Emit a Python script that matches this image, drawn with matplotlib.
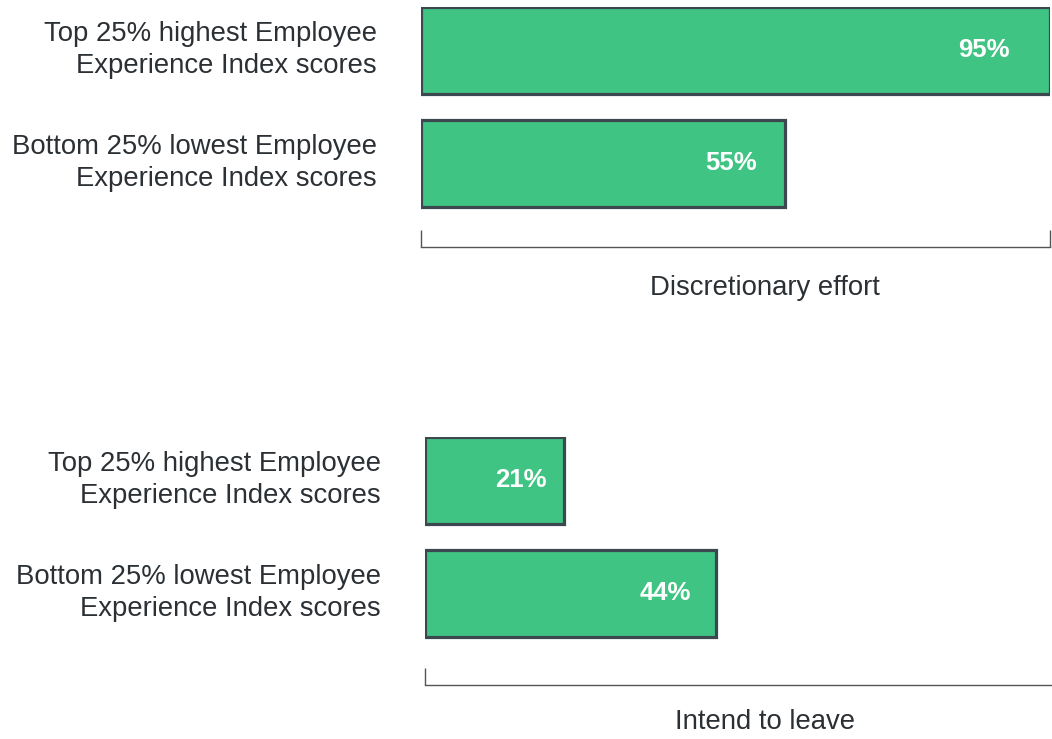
import matplotlib.pyplot as plt

plt.rcParams['font.family'] = ['Liberation Sans', 'DejaVu Sans']

groups = ["Top 25% highest Employee\nExperience Index scores",
          "Bottom 25% lowest Employee\nExperience Index scores"]
effort = [95, 55]
leave = [21, 44]
panel_titles = ["Discretionary effort", "Intend to leave"]

BAR = "#40c483"
EDGE = "#3b4850"
TEXT = "#2b3035"


def draw_panel(ax, values, title, label_x, label_y):
    ypos = list(range(len(values)))
    ax.barh(ypos, values, height=0.77, color=BAR, edgecolor=EDGE, linewidth=2.3)
    for y, v in zip(ypos, values):
        # label sits a bit inside the end of each bar
        ax.text(0.953 * v - 5.6, y, f"{v}%", ha="center", va="center",
                color="white", fontsize=18.5, fontweight="bold")
    ax.set_xlim(0, 95)
    ax.set_yticks(ypos)
    ax.set_yticklabels(groups, fontsize=19.8, color=TEXT, ha="right",
                       va="center", linespacing=1.3)
    ax.tick_params(axis="y", length=0, pad=32)
    ax.set_xticks([0, 95])
    ax.set_xticklabels([])
    ax.tick_params(axis="x", direction="in", length=12, width=1, color="#555555")
    for s in ["top", "right", "left"]:
        ax.spines[s].set_visible(False)
    ax.spines["bottom"].set_color("#555555")
    ax.spines["bottom"].set_linewidth(1)
    ax.set_xlabel(title, fontsize=19.8, color=TEXT)
    ax.xaxis.set_label_coords(label_x, label_y)


fig = plt.figure(figsize=(10.52, 7.39), dpi=100)

ax1 = fig.add_axes([0.4002, 0.6658, 0.598, 0.3248])
draw_panel(ax1, effort, panel_titles[0], 0.547, -0.115)
ax1.set_ylim(1.739, -0.385)

ax2 = fig.add_axes([0.404, 0.0731, 0.598, 0.3356])
draw_panel(ax2, leave, panel_titles[1], 0.5405, -0.098)
ax2.set_ylim(1.814, -0.385)

fig.savefig("out.png", dpi=100)
